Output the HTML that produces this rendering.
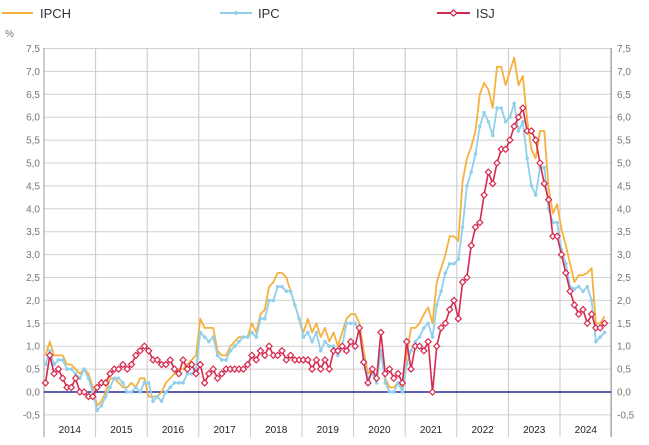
<!DOCTYPE html>
<html><head><meta charset="utf-8"><style>
html,body{margin:0;padding:0;background:#fff;width:649px;height:445px;overflow:hidden}
svg{display:block;font-family:"Liberation Sans",sans-serif}
</style></head><body>
<svg id="c" width="649" height="445" xmlns="http://www.w3.org/2000/svg"></svg>
<script>
const NS="http://www.w3.org/2000/svg";const s=document.getElementById('c');
function el(t,a,txt){const e=document.createElementNS(NS,t);for(const k in a)e.setAttribute(k,a[k]);if(txt!==undefined)e.textContent=txt;s.appendChild(e);return e;}
const X=m=>45.5+m*4.3, Y=v=>392-v*45.8;
// horizontal grid
for(let i=-1;i<=15;i++){const v=i/2,y=Y(v);
 el('line',{x1:44,x2:611,y1:y,y2:y,stroke:'#d0d0d0','stroke-width':1});
 const lab=v.toFixed(1).replace('.',',');
 el('text',{x:40,y:y+3.5,'text-anchor':'end','font-size':10,fill:'#777'},lab);
 el('text',{x:617,y:y+3.5,'font-size':10,fill:'#777'},lab);
}
// vertical grid
for(let k=0;k<=11;k++){const x=44+k*51.6;el('line',{x1:x,x2:x,y1:48,y2:437,stroke:k==0?'#999':'#c8c8c8','stroke-width':1});}
el('line',{x1:611,x2:611,y1:48,y2:437,stroke:'#999','stroke-width':1});
el('line',{x1:44,x2:611,y1:Y(0),y2:Y(0),stroke:'#000080','stroke-width':1.2});
for(let k=0;k<11;k++){el('text',{x:44+k*51.6+25.8,y:433,'text-anchor':'middle','font-size':10,fill:'#222'},String(2014+k));}
el('text',{x:5,y:37,'font-size':10,fill:'#777'},'%');
// legend
el('line',{x1:2,x2:33,y1:13,y2:13,stroke:'#f5b13d','stroke-width':2});
el('text',{x:40,y:18,'font-size':13,fill:'#333'},'IPCH');
el('line',{x1:220,x2:252,y1:13,y2:13,stroke:'#90d0ea','stroke-width':2});
el('circle',{cx:236,cy:13,r:2,fill:'#90d0ea'});
el('text',{x:258,y:18,'font-size':13,fill:'#333'},'IPC');
el('line',{x1:437,x2:470,y1:13,y2:13,stroke:'#d6294f','stroke-width':2});
el('path',{d:'M453.5 10 L457 13 L453.5 16 L450 13Z',fill:'#fff',stroke:'#d6294f','stroke-width':1.3});
el('text',{x:476,y:18,'font-size':13,fill:'#333'},'ISJ');
const ipch=[0.8,1.1,0.8,0.8,0.8,0.6,0.6,0.5,0.4,0.5,0.4,0.1,
-0.3,-0.2,0.0,0.3,0.3,0.2,0.1,0.1,0.2,0.1,0.3,0.3,
-0.1,-0.1,-0.1,0.0,0.2,0.3,0.4,0.5,0.5,0.6,0.7,0.8,
1.6,1.4,1.4,1.4,0.9,0.8,0.8,1.0,1.1,1.2,1.2,1.2,
1.5,1.3,1.7,1.8,2.3,2.4,2.6,2.6,2.5,2.2,1.9,1.6,
1.3,1.6,1.3,1.5,1.2,1.4,1.1,1.3,1.0,1.3,1.6,1.7,
1.7,1.5,0.9,0.4,0.5,0.3,0.9,0.3,0.1,0.1,0.2,0.1,
0.8,1.4,1.4,1.5,1.7,1.85,1.5,2.4,2.7,3.0,3.4,3.4,
3.3,4.6,5.1,5.35,5.7,6.5,6.75,6.6,6.2,7.1,7.1,6.7,
7.0,7.3,6.7,6.9,5.95,5.3,5.1,5.7,5.7,4.45,3.9,4.1,
3.55,3.2,2.8,2.4,2.55,2.55,2.6,2.7,1.5,1.5,1.65];
const ipc=[0.6,0.9,0.6,0.7,0.7,0.5,0.5,0.4,0.3,0.5,0.3,0.0,
-0.4,-0.3,-0.1,0.1,0.3,0.3,0.2,0.0,0.0,0.1,0.0,0.2,
0.2,-0.2,-0.1,-0.2,0.0,0.1,0.2,0.2,0.2,0.4,0.4,0.5,
1.3,1.2,1.1,1.2,0.8,0.7,0.7,0.9,1.0,1.1,1.2,1.2,
1.3,1.2,1.6,1.6,2.0,2.0,2.3,2.3,2.2,2.2,1.9,1.6,
1.2,1.3,1.1,1.3,0.9,1.1,1.0,1.0,0.8,1.0,1.5,1.5,
1.5,1.3,0.7,0.3,0.4,0.2,0.9,0.2,0.0,0.0,0.2,0.0,
0.6,0.9,1.1,1.2,1.4,1.5,1.2,1.9,2.2,2.6,2.8,2.8,
2.9,3.6,4.5,4.8,5.2,5.8,6.1,5.9,5.6,6.2,6.2,5.9,
6.0,6.3,5.7,5.9,5.1,4.5,4.3,4.9,4.9,4.0,3.7,3.7,
3.1,2.8,2.3,2.25,2.3,2.2,2.3,2.0,1.1,1.2,1.3];
const isj=[0.2,0.8,0.4,0.5,0.3,0.1,0.1,0.3,0.0,0.0,-0.1,-0.1,
0.1,0.2,0.2,0.4,0.5,0.5,0.6,0.5,0.6,0.8,0.9,1.0,
0.9,0.7,0.7,0.6,0.6,0.7,0.5,0.4,0.7,0.5,0.6,0.4,
0.6,0.2,0.4,0.5,0.3,0.4,0.5,0.5,0.5,0.5,0.5,0.6,
0.8,0.7,0.9,0.8,1.0,0.8,0.8,0.9,0.7,0.8,0.7,0.7,
0.7,0.7,0.5,0.7,0.5,0.7,0.5,0.9,0.9,1.0,0.9,1.1,
1.0,1.4,0.65,0.2,0.5,0.3,1.3,0.4,0.5,0.3,0.4,0.2,
1.1,0.5,1.0,1.0,0.9,1.1,0.0,1.0,1.4,1.5,1.8,2.0,
1.6,2.4,2.5,3.2,3.6,3.7,4.3,4.8,4.55,5.0,5.3,5.3,
5.5,5.8,6.0,6.2,5.7,5.7,5.5,5.0,4.55,4.2,3.4,3.4,
3.0,2.6,2.2,1.9,1.7,1.8,1.5,1.7,1.4,1.4,1.5];
const pts=a=>a.map((v,i)=>X(i).toFixed(1)+','+Y(v).toFixed(1)).join(' ');
el('polyline',{points:pts(ipch),fill:'none',stroke:'#f5b13d','stroke-width':1.8,'stroke-linejoin':'round'});
el('polyline',{points:pts(ipc),fill:'none',stroke:'#90d0ea','stroke-width':1.8,'stroke-linejoin':'round'});
ipc.forEach((v,i)=>el('circle',{cx:X(i),cy:Y(v),r:1.8,fill:'#90d0ea'}));
el('polyline',{points:pts(isj),fill:'none',stroke:'#d6294f','stroke-width':1.6,'stroke-linejoin':'round'});
isj.forEach((v,i)=>{const x=X(i),y=Y(v);el('path',{d:`M${x} ${y-3}L${x+3} ${y}L${x} ${y+3}L${x-3} ${y}Z`,fill:'#fff',stroke:'#d6294f','stroke-width':1.2});});
</script>
</body></html>
